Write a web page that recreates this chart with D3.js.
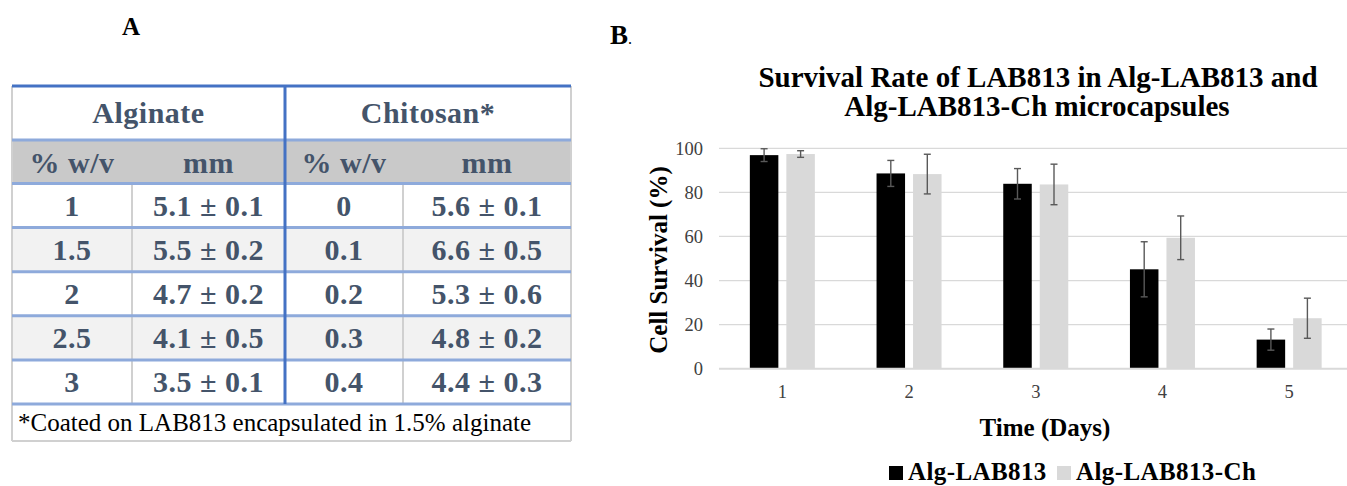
<html>
<head>
<script src="https://d3js.org/d3.v7.min.js"></script>
<style>
  body { margin: 0; background: #fff; }
  svg { display: block; font-family: "Liberation Serif", "Times New Roman", serif; }
</style>
</head>
<body>
<script>
// ---- table data (panel A)
var groupHeads = ["Alginate", "Chitosan*"];
var unitHeads = ["% w/v", "mm", "% w/v", "mm"];
var alginateConc = ["1", "1.5", "2", "2.5", "3"];
var alginateSize = ["5.1 \u00b1 0.1", "5.5 \u00b1 0.2", "4.7 \u00b1 0.2", "4.1 \u00b1 0.5", "3.5 \u00b1 0.1"];
var chitosanConc = ["0", "0.1", "0.2", "0.3", "0.4"];
var chitosanSize = ["5.6 \u00b1 0.1", "6.6 \u00b1 0.5", "5.3 \u00b1 0.6", "4.8 \u00b1 0.2", "4.4 \u00b1 0.3"];
var footnote = "*Coated on LAB813 encapsulated in 1.5% alginate";

// ---- chart data (panel B)
var days = ["1", "2", "3", "4", "5"];
var seriesNames = ["Alg-LAB813", "Alg-LAB813-Ch"];
var algMean = [96.9, 88.6, 83.9, 45.1, 13.2];
var algErr = [2.9, 5.9, 6.9, 12.5, 4.8];
var chMean = [97.4, 88.3, 83.6, 59.4, 22.9];
var chErr = [1.5, 9.0, 9.2, 9.9, 9.1];
var yTicks = [0, 20, 40, 60, 80, 100];

var W = 1347, H = 486;
var svg = d3.select("body").append("svg").attr("width", W).attr("height", H);

var textBlue = "#44546A";

// ================= panel A : table =================
svg.append("text").attr("x", 131).attr("y", 35).attr("text-anchor", "middle")
  .attr("font-weight", "bold").attr("font-size", 25).text("A");

var colEdges = [12, 132, 285, 403, 571]; // table column edges
var tTop = 86, headBottom = 140, unitBottom = 183.5, bodyBottom = 404, tBottom = 441;

var rows = alginateConc.map(function(c, i) {
  return [c, alginateSize[i], chitosanConc[i], chitosanSize[i]];
});
var rowY = d3.scaleBand().domain(d3.range(rows.length)).range([unitBottom, bodyBottom]);

var tbl = svg.append("g");

// fills
tbl.append("rect").attr("x", colEdges[0]).attr("y", headBottom)
  .attr("width", colEdges[4] - colEdges[0]).attr("height", unitBottom - headBottom).attr("fill", "#C9C9C9");
tbl.selectAll("rect.band").data(rows).enter().append("rect").attr("class", "band")
  .attr("x", colEdges[0]).attr("y", function(d, i) { return rowY(i); })
  .attr("width", colEdges[4] - colEdges[0]).attr("height", rowY.bandwidth())
  .attr("fill", function(d, i) { return i % 2 === 1 ? "#F2F2F2" : "#fff"; });

// thin grey verticals
[colEdges[0], colEdges[4]].forEach(function(xv) {
  tbl.append("line").attr("x1", xv).attr("x2", xv).attr("y1", tTop).attr("y2", tBottom)
    .attr("stroke", "#D0D0D0").attr("stroke-width", 2);
});
[colEdges[1], colEdges[3]].forEach(function(xv) {
  tbl.append("line").attr("x1", xv).attr("x2", xv).attr("y1", unitBottom).attr("y2", bodyBottom)
    .attr("stroke", "#D0D0D0").attr("stroke-width", 2);
});
tbl.append("line").attr("x1", colEdges[0]).attr("x2", colEdges[4]).attr("y1", tBottom).attr("y2", tBottom)
  .attr("stroke", "#D0D0D0").attr("stroke-width", 2);

// blue horizontals
var hLines = [headBottom, unitBottom].concat(d3.range(1, rows.length + 1).map(function(i) { return rowY(i - 1) + rowY.bandwidth(); }));
tbl.selectAll("line.h").data(hLines).enter().append("line").attr("class", "h")
  .attr("x1", colEdges[0]).attr("x2", colEdges[4])
  .attr("y1", function(d) { return d; }).attr("y2", function(d) { return d; })
  .attr("stroke", "#8EAADB").attr("stroke-width", 3);
tbl.append("line").attr("x1", colEdges[0]).attr("x2", colEdges[4]).attr("y1", tTop).attr("y2", tTop)
  .attr("stroke", "#4472C4").attr("stroke-width", 3);
tbl.append("line").attr("x1", colEdges[2]).attr("x2", colEdges[2]).attr("y1", tTop).attr("y2", bodyBottom)
  .attr("stroke", "#4472C4").attr("stroke-width", 3);

function cellText(sel) {
  return sel.attr("text-anchor", "middle").attr("font-weight", "bold").attr("font-size", 30)
    .attr("letter-spacing", 0.5).attr("fill", textBlue);
}

// header rows
tbl.selectAll("text.gh").data(groupHeads).enter().append("text").attr("class", "gh")
  .call(cellText)
  .attr("x", function(d, i) { return (colEdges[i * 2] + colEdges[i * 2 + 2]) / 2; })
  .attr("y", 123).text(function(d) { return d; });
tbl.selectAll("text.uh").data(unitHeads).enter().append("text").attr("class", "uh")
  .call(cellText)
  .attr("x", function(d, i) { return (colEdges[i] + colEdges[i + 1]) / 2; })
  .attr("y", 173).text(function(d) { return d; });

// body
var rowG = tbl.selectAll("g.row").data(rows).enter().append("g").attr("class", "row")
  .attr("transform", function(d, i) { return "translate(0," + rowY(i) + ")"; });
rowG.selectAll("text").data(function(d) { return d; }).enter().append("text")
  .call(cellText)
  .attr("x", function(d, i) { return (colEdges[i] + colEdges[i + 1]) / 2; })
  .attr("y", rowY.bandwidth() / 2 + 10.5).text(function(d) { return d; });

tbl.append("text").attr("x", 18).attr("y", 431).attr("font-size", 25).attr("fill", "#000")
  .text(footnote);

// ================= panel B : bar chart =================
svg.append("text").attr("x", 610).attr("y", 44).attr("font-size", 27)
  .call(function(t) {
    t.append("tspan").attr("font-weight", "bold").text("B");
    t.append("tspan").attr("font-size", 16).text(".");
  });

var title = svg.append("text").attr("text-anchor", "middle").attr("font-weight", "bold").attr("font-size", 29);
title.append("tspan").attr("x", 1038).attr("y", 87).text("Survival Rate of LAB813 in Alg-LAB813 and");
title.append("tspan").attr("x", 1037).attr("y", 116).text("Alg-LAB813-Ch microcapsules");

var x0 = d3.scaleBand().domain(days).range([719, 1352.5]);
var x1 = d3.scaleBand().domain(seriesNames).range([0, x0.bandwidth()])
  .paddingInner(0.219).paddingOuter(0.845);
var y = d3.scaleLinear().domain([0, 100]).range([368.7, 148.3]);
var color = d3.scaleOrdinal().domain(seriesNames).range(["#000000", "#D9D9D9"]);

// gridlines
svg.append("g").selectAll("line").data(yTicks.slice(1)).enter().append("line")
  .attr("x1", 719).attr("x2", W)
  .attr("y1", function(d) { return y(d); }).attr("y2", function(d) { return y(d); })
  .attr("stroke", "#D9D9D9").attr("stroke-width", 1.3);

var yAxis = svg.append("g").attr("transform", "translate(719,0)")
  .call(d3.axisLeft(y).tickValues(yTicks).tickSize(0).tickPadding(16));
yAxis.select(".domain").remove();
yAxis.selectAll("text").attr("font-family", "Liberation Serif").attr("font-size", 18.5).attr("fill", "#404040");

var table = days.map(function(d, i) {
  return { day: d, vals: [
    { s: seriesNames[0], v: algMean[i], e: algErr[i] },
    { s: seriesNames[1], v: chMean[i], e: chErr[i] }
  ] };
});

var grp = svg.append("g").selectAll("g").data(table).enter().append("g")
  .attr("transform", function(d) { return "translate(" + x0(d.day) + ",0)"; });

grp.selectAll("rect").data(function(d) { return d.vals; }).enter().append("rect")
  .attr("x", function(d) { return x1(d.s); })
  .attr("y", function(d) { return y(d.v); })
  .attr("width", x1.bandwidth())
  .attr("height", function(d) { return y(0) - y(d.v); })
  .attr("fill", function(d) { return color(d.s); });

// x axis
var xAxis = svg.append("g").attr("transform", "translate(0," + y(0) + ")")
  .call(d3.axisBottom(x0).tickSize(0).tickPadding(16.5));
xAxis.select(".domain").attr("d", "M719,0H" + W).attr("stroke", "#D9D9D9").attr("stroke-width", 2);
xAxis.selectAll("text").attr("font-family", "Liberation Serif").attr("font-size", 18.5).attr("fill", "#404040");

// error bars
var eb = grp.selectAll("g.err").data(function(d) { return d.vals; }).enter().append("g").attr("class", "err")
  .attr("transform", function(d) { return "translate(" + (x1(d.s) + x1.bandwidth() / 2) + ",0)"; })
  .attr("stroke", "#595959").attr("stroke-width", 1.4);
eb.append("line").attr("x1", 0).attr("x2", 0)
  .attr("y1", function(d) { return y(d.v + d.e); }).attr("y2", function(d) { return y(d.v - d.e); });
eb.append("line").attr("x1", -3.5).attr("x2", 3.5)
  .attr("y1", function(d) { return y(d.v + d.e); }).attr("y2", function(d) { return y(d.v + d.e); });
eb.append("line").attr("x1", -3.5).attr("x2", 3.5)
  .attr("y1", function(d) { return y(d.v - d.e); }).attr("y2", function(d) { return y(d.v - d.e); });

// axis titles
svg.append("text").attr("transform", "translate(667,260) rotate(-90)").attr("text-anchor", "middle")
  .attr("font-weight", "bold").attr("font-size", 25).text("Cell Survival (%)");
svg.append("text").attr("x", 1045).attr("y", 436).attr("text-anchor", "middle")
  .attr("font-weight", "bold").attr("font-size", 25).text("Time (Days)");

// legend
var legendX = [889, 1057];
var lg = svg.append("g").selectAll("g").data(seriesNames).enter().append("g")
  .attr("transform", function(d, i) { return "translate(" + legendX[i] + ",0)"; });
lg.append("rect").attr("x", 0).attr("y", 466).attr("width", 14).attr("height", 14)
  .attr("fill", function(d) { return color(d); });
lg.append("text").attr("x", 19).attr("y", 480).attr("font-weight", "bold").attr("font-size", 25)
  .attr("letter-spacing", 0.4).text(function(d) { return d; });
</script>
</body>
</html>
